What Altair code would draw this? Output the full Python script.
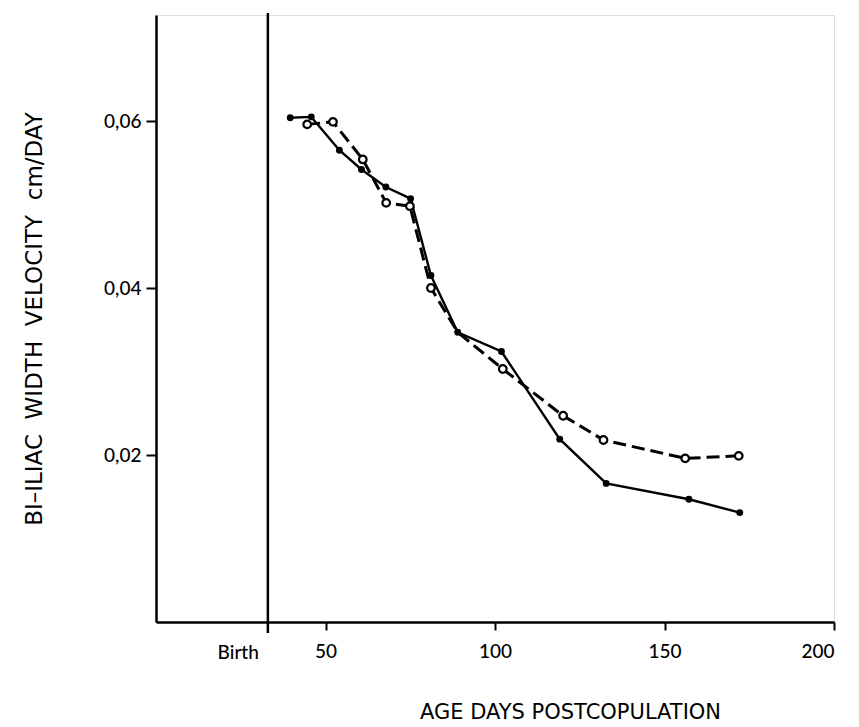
import altair as alt
import pandas as pd

# Data
solid_days = [39.6, 45.8, 54.1, 60.6, 67.8, 75.1, 81.1, 89.0, 101.9, 119.1, 132.8, 157.2, 172.2]
solid_vel = [0.0604, 0.0605, 0.0565, 0.0542, 0.0521, 0.0507, 0.0415, 0.0347, 0.0324, 0.0219, 0.0166, 0.0147, 0.0131]

open_days = [44.6, 52.2, 61.0, 67.9, 74.9, 81.1, 89.0, 102.3, 120.1, 132.0, 156.1, 171.9]
open_vel = [0.0596, 0.0599, 0.0554, 0.0502, 0.0498, 0.0400, 0.0347, 0.0303, 0.0247, 0.0218, 0.0196, 0.0199]
open_marker = [True, True, True, True, True, True, False, True, True, True, True, True]

birth_day = [33]
birth_label = ["Birth"]

x_ticks = [50, 100, 150, 200]
y_ticks = [0.02, 0.04, 0.06]

W, H = 678, 607
FONT = "Lato"
TFONT = "DejaVu Sans"

solid_df = pd.DataFrame({"day": solid_days, "vel": solid_vel})
open_df = pd.DataFrame({"day": open_days, "vel": open_vel, "marker": open_marker})
birth_df = pd.DataFrame({"day": birth_day, "label": birth_label})

x_scale = alt.Scale(domain=[0, 200], nice=False, zero=False)
y_scale = alt.Scale(domain=[0, 0.0727], nice=False, zero=False)

x_axis = alt.Axis(
    values=x_ticks, grid=False, title="AGE DAYS POSTCOPULATION",
    tickSize=8, tickColor="black", tickWidth=2, domainColor="black", domainWidth=2.5,
    labelFont=FONT, labelFontSize=19, labelFontWeight=500, labelColor="black", labelPadding=12,
    titleFont=TFONT, titleFontSize=21, titleFontWeight="normal", titleColor="black",
    titleX=414, titleY=90, titleBaseline="middle", titleAlign="center",
)
y_axis = alt.Axis(
    values=y_ticks, grid=False,
    title="BI\u2013ILIAC\u00a0 WIDTH\u00a0 VELOCITY\u00a0 cm/DAY",
    labelExpr="replace(format(datum.value, '.2f'), '.', ',')",
    tickSize=10, tickColor="black", tickWidth=2, domainColor="black", domainWidth=2.5,
    labelFont=FONT, labelFontSize=19, labelFontWeight=500, labelColor="black", labelPadding=5,
    titleFont=TFONT, titleFontSize=23, titleFontWeight="normal", titleColor="black",
    titleX=-122, titleBaseline="middle",
)

X = alt.X("day:Q", scale=x_scale, axis=x_axis)
Y = alt.Y("vel:Q", scale=y_scale, axis=y_axis)

solid_line = alt.Chart(solid_df).mark_line(color="black", strokeWidth=2.4).encode(x=X, y=Y)
solid_pts = alt.Chart(solid_df).mark_circle(color="black", size=48, opacity=1).encode(x=X, y=Y)
open_line = alt.Chart(open_df).mark_line(color="black", strokeWidth=3, strokeDash=[13, 6]).encode(x=X, y=Y)
open_pts = alt.Chart(open_df).transform_filter("datum.marker").mark_point(
    shape="circle", filled=False, fill="white", fillOpacity=1, stroke="black", strokeWidth=2.2, size=58, opacity=1
).encode(x=X, y=Y)

birth_rule = alt.Chart(birth_df).mark_rule(color="black", strokeWidth=2.5).encode(
    x=X, y=alt.value(-2), y2=alt.value(H + 11)
)
birth_text = alt.Chart(birth_df).mark_text(
    align="right", baseline="middle", dx=-9, font=FONT, fontSize=19, fontWeight=500, color="black"
).encode(x=X, y=alt.value(H + 31), text="label:N")

chart = alt.layer(birth_rule, open_line, solid_line, open_pts, solid_pts, birth_text).properties(
    width=W, height=H,
    autosize=alt.AutoSizeParams(type="none"),
    padding={"left": 156, "top": 15, "right": 25, "bottom": 105},
).configure_view(stroke=None).configure(background="white")

chart.save("out.html", embed_options={"renderer": "svg", "actions": False})
